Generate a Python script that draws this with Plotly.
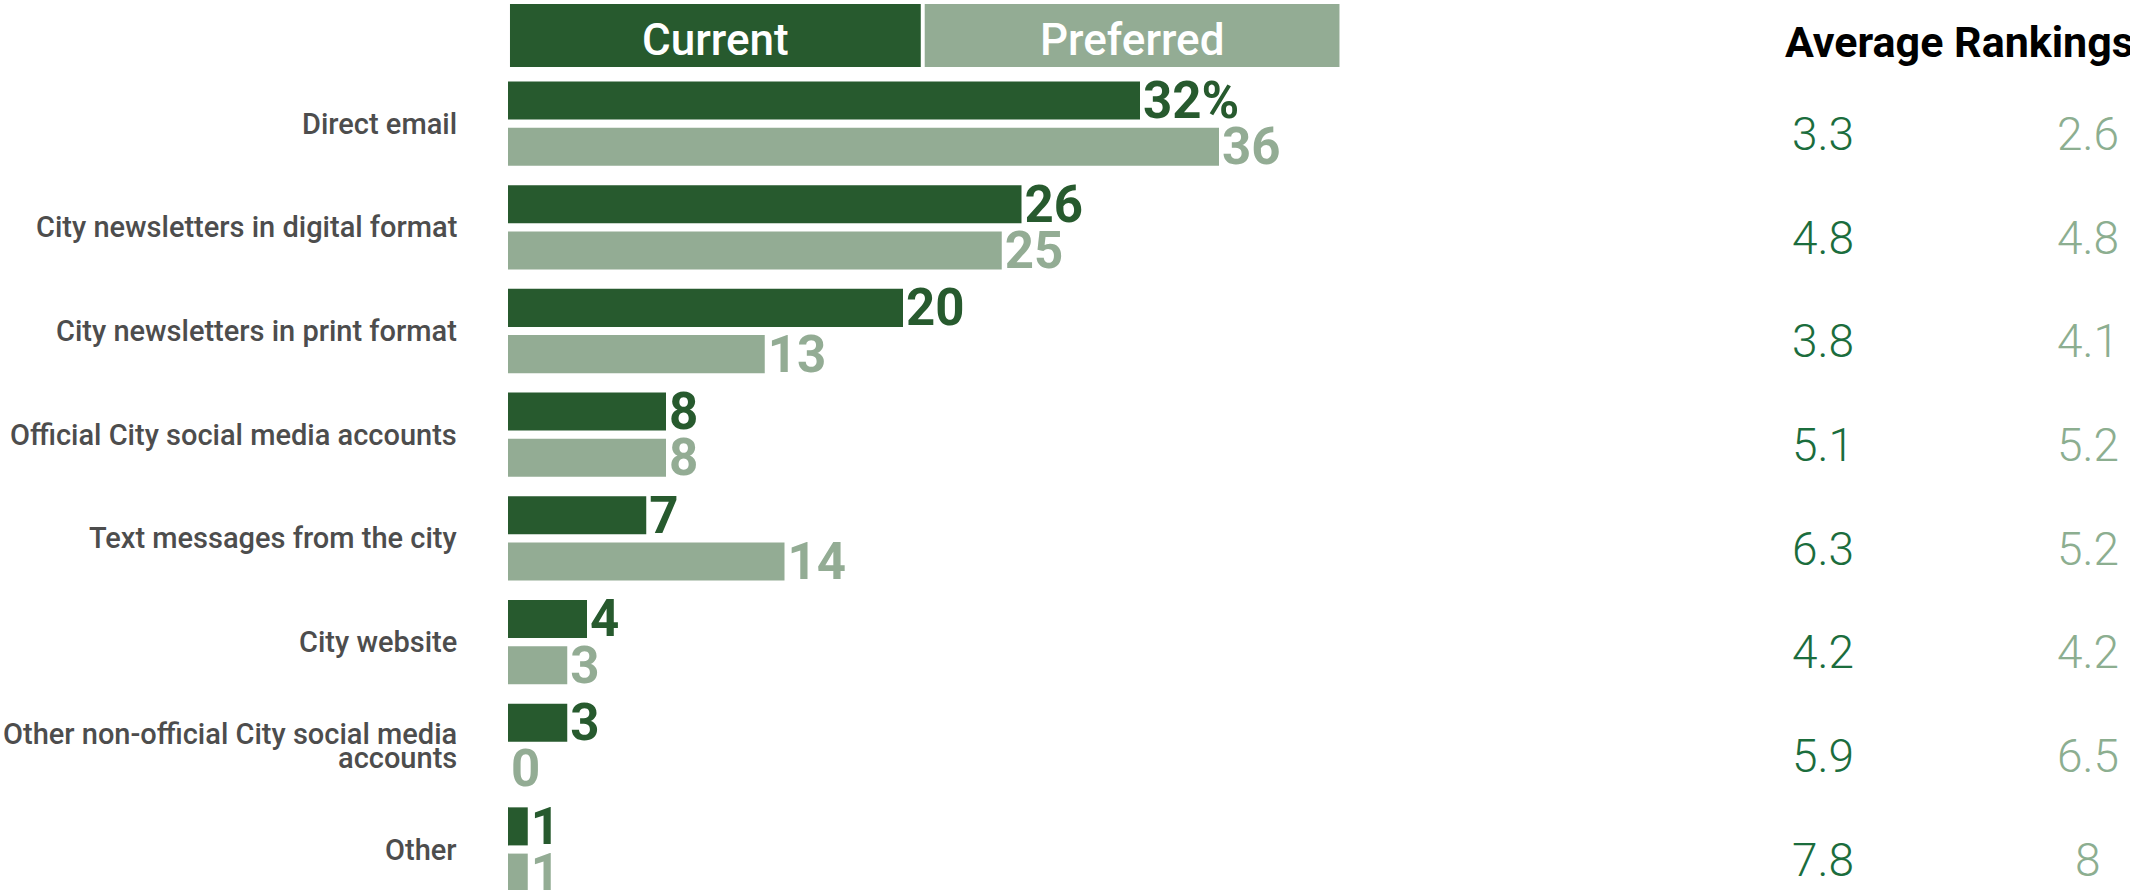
import plotly.graph_objects as go

# Survey data: communication channels
categories = [
    "Direct email",
    "City newsletters in digital format",
    "City newsletters in print format",
    "Official City social media accounts",
    "Text messages from the city",
    "City website",
    "Other non-official City social media<br>accounts",
    "Other",
]
current_pct = [32, 26, 20, 8, 7, 4, 3, 1]
preferred_pct = [36, 25, 13, 8, 14, 3, 0, 1]
rank_current = ["3.3", "4.8", "3.8", "5.1", "6.3", "4.2", "5.9", "7.8"]
rank_preferred = ["2.6", "4.8", "4.1", "5.2", "5.2", "4.2", "6.5", "8"]
series_names = ["Current", "Preferred"]
rank_title = "Average Rankings"

DARK = "#275A2E"
LIGHT = "#93AC94"
RANK_DARK = "#1B6D3D"
RANK_LIGHT = "#8CAE90"
LABEL_GRAY = "#4D4D4D"
FONT = "Roboto"

W, H = 2130, 890
n = len(categories)
rows = list(range(n))
bar_w = 0.367
shift = 0.223


def labels(vals, pct_first):
    return [f"{v}%" if (i == 0 and pct_first) else str(v) for i, v in enumerate(vals)]


fig = go.Figure()
for vals, color, sgn, name, pct_first in [
    (current_pct, DARK, -1, series_names[0], True),
    (preferred_pct, LIGHT, 1, series_names[1], False),
]:
    fig.add_trace(go.Bar(
        x=vals,
        y=[r + sgn * shift for r in rows],
        orientation="h",
        width=bar_w,
        marker=dict(color=color, line=dict(width=0)),
        name=name,
        text=labels(vals, pct_first),
        textposition="outside",
        constraintext="none",
        cliponaxis=False,
        textfont=dict(family=FONT, size=51, color=color, weight=700),
        hoverinfo="skip",
        showlegend=False,
    ))

annotations = []
# Category labels on the left, right-aligned
label_x = 459 / W
for i, cat in enumerate(categories):
    parts = cat.split("<br>")
    if len(parts) == 1:
        offs = [0.0]
    else:
        offs = [-0.11, 0.12]
    for p, o in zip(parts, offs):
        annotations.append(dict(
            x=label_x, xref="paper", y=i + o, yref="y",
            text=p, showarrow=False, xanchor="right", yanchor="middle",
            font=dict(family=FONT, size=29, color=LABEL_GRAY, weight=500),
        ))

# Ranking columns on the right
for i in rows:
    annotations.append(dict(
        x=1823 / W, xref="paper", y=i + 0.1, yref="y",
        text=rank_current[i], showarrow=False, xanchor="center", yanchor="middle",
        font=dict(family=FONT, size=46, color=RANK_DARK, weight=300),
    ))
    annotations.append(dict(
        x=2088 / W, xref="paper", y=i + 0.1, yref="y",
        text=rank_preferred[i], showarrow=False, xanchor="center", yanchor="middle",
        font=dict(family=FONT, size=46, color=RANK_LIGHT, weight=300),
    ))

annotations.append(dict(
    x=1783 / W, xref="paper", y=-0.79, yref="y",
    text=rank_title, showarrow=False, xanchor="left", yanchor="middle",
    font=dict(family=FONT, size=43, color="#000000", weight=700),
))

# Header boxes acting as legend, aligned with the bar scale
shapes = []
header_spans = [(0.1, 20.9), (21.1, 42.1)]
for (x0, x1), color, name in zip(header_spans, [DARK, LIGHT], series_names):
    shapes.append(dict(
        type="rect", xref="x", yref="y", x0=x0, x1=x1, y0=-1.153, y1=-0.546,
        fillcolor=color, line=dict(width=0), layer="below",
    ))
    annotations.append(dict(
        x=(x0 + x1) / 2, xref="x", y=-0.81, yref="y",
        text=name, showarrow=False, xanchor="center", yanchor="middle",
        font=dict(family=FONT, size=44, color="#FFFFFF", weight=500),
    ))

px_per_unit = 19.75
bar_origin = 508
row_px = 103.7
row0_px = 123.6

fig.update_layout(
    width=W, height=H,
    margin=dict(l=0, r=0, t=0, b=0),
    paper_bgcolor="white", plot_bgcolor="white",
    barmode="overlay",
    xaxis=dict(
        range=[-bar_origin / px_per_unit, (W - bar_origin) / px_per_unit],
        visible=False, fixedrange=True,
    ),
    yaxis=dict(
        range=[(H - row0_px) / row_px, -row0_px / row_px],
        visible=False, fixedrange=True,
    ),
    annotations=annotations,
    shapes=shapes,
)

fig.write_html("out.html")
